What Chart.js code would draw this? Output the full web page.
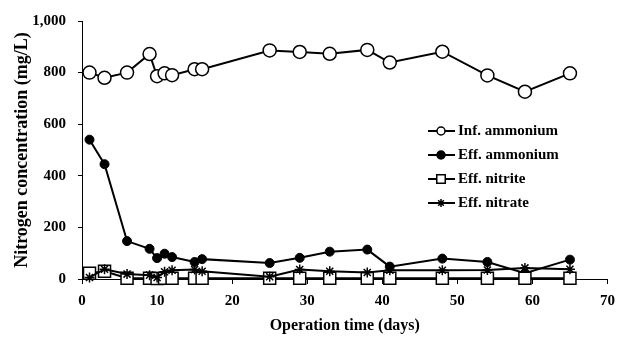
<!DOCTYPE html>
<html>
<head>
<meta charset="utf-8">
<script src="https://cdn.jsdelivr.net/npm/chart.js@4"></script>
<style>
  html, body { margin: 0; padding: 0; background: #fff; }
  #wrap { width: 623px; height: 339px; }
</style>
</head>
<body>
<div id="wrap"><canvas id="myChart"></canvas></div>
<script>
const days = [1, 3, 6, 9, 10, 11, 12, 15, 16, 25, 29, 33, 38, 41, 48, 54, 59, 65];
const infAmmonium = [800, 780, 800, 872, 786, 797, 790, 813, 813, 886, 880, 873, 888, 839, 881, 789, 726, 797];
const effAmmonium = [540, 445, 147, 117, 81, 98, 85, 66, 77, 62, 82, 106, 114, 48, 79, 66, 22, 75];
const effNitrite = [22, 30, 3, 3, 2, 3, 3, 3, 3, 3, 3, 3, 3, 3, 3, 3, 3, 3];
const effNitrate = [6, 38, 19, 15, 6, 28, 34, 37, 30, 9, 37, 30, 25, 34, 34, 35, 43, 38];

const serif = "'Liberation Serif', 'Times New Roman', serif";

function points(values) {
  return days.map((d, i) => ({ x: d, y: values[i] }));
}

// legend drawn as line + marker, inside the plot
const lineLegend = {
  id: "lineLegend",
  afterDatasetsDraw(chart) {
    const ctx = chart.ctx;
    const items = [
      { text: "Inf. ammonium", style: "circle", r: 4, fill: "#fff" },
      { text: "Eff. ammonium", style: "circle", r: 4, fill: "#000" },
      { text: "Eff. nitrite", style: "rect", r: 6, fill: "#fff" },
      { text: "Eff. nitrate", style: "star", r: 4, fill: "#000" },
    ];
    const rows = [131, 155, 179, 203];
    ctx.save();
    items.forEach((it, i) => {
      const y = rows[i];
      ctx.strokeStyle = "#000";
      ctx.lineWidth = 2;
      ctx.beginPath();
      ctx.moveTo(428, y);
      ctx.lineTo(455, y);
      ctx.stroke();
      ctx.fillStyle = it.fill;
      ctx.lineWidth = 1.5;
      Chart.helpers.drawPoint(ctx, { pointStyle: it.style, radius: it.r, rotation: 0, borderWidth: 1.5 }, 441, y);
      ctx.fillStyle = "#000";
      ctx.font = "bold 15px " + serif;
      ctx.textBaseline = "middle";
      ctx.textAlign = "left";
      ctx.fillText(it.text, 458, y);
    });
    ctx.restore();
  },
};

let myChart = document.getElementById("myChart").getContext("2d");

let nChart = new Chart(myChart, {
  type: "line",
  data: {
    datasets: [
      {
        label: "Inf. ammonium",
        data: points(infAmmonium),
        borderColor: "#000",
        borderWidth: 2,
        pointStyle: "circle",
        pointRadius: 6.5,
        pointBackgroundColor: "#fff",
        pointBorderColor: "#000",
        pointBorderWidth: 1.5,
        clip: false,
        order: 3,
      },
      {
        label: "Eff. ammonium",
        data: points(effAmmonium),
        borderColor: "#000",
        borderWidth: 2,
        pointStyle: "circle",
        pointRadius: 4.5,
        pointBackgroundColor: "#000",
        pointBorderColor: "#000",
        pointBorderWidth: 1,
        clip: false,
        order: 2,
      },
      {
        label: "Eff. nitrite",
        data: points(effNitrite),
        borderColor: "#000",
        borderWidth: 2,
        pointStyle: "rect",
        pointRadius: 8.5,
        pointBackgroundColor: "#fff",
        pointBorderColor: "#000",
        pointBorderWidth: 1.5,
        clip: false,
        order: 1,
      },
      {
        label: "Eff. nitrate",
        data: points(effNitrate),
        borderColor: "#000",
        borderWidth: 2,
        pointStyle: "star",
        pointRadius: 5,
        pointBackgroundColor: "#000",
        pointBorderColor: "#000",
        pointBorderWidth: 1.5,
        clip: false,
        order: 0,
      },
    ],
  },
  options: {
    responsive: true,
    maintainAspectRatio: false,
    animation: false,
    layout: { padding: { top: 16, right: 15, bottom: 0, left: 0 } },
    plugins: {
      legend: { display: false },
      tooltip: { enabled: false },
    },
    scales: {
      x: {
        type: "linear",
        min: 0,
        max: 70,
        afterFit: (s) => { s.height = 60; },
        ticks: {
          stepSize: 10,
          color: "#000",
          padding: 8,
          font: { family: serif, size: 15, weight: "bold" },
        },
        grid: { drawOnChartArea: false, drawTicks: true, tickLength: 5, color: "#000" },
        border: { color: "#000", width: 1 },
        title: {
          display: true,
          text: "Operation time (days)",
          color: "#000",
          padding: { top: 0, bottom: 4 },
          font: { family: serif, size: 16, weight: "bold" },
        },
      },
      y: {
        min: 0,
        max: 1000,
        afterFit: (s) => { s.width = 82; },
        ticks: {
          stepSize: 200,
          color: "#000",
          padding: 12,
          font: { family: serif, size: 15, weight: "bold" },
        },
        grid: { drawOnChartArea: false, drawTicks: true, tickLength: 4, color: "#000" },
        border: { color: "#000", width: 1 },
        title: {
          display: true,
          text: "Nitrogen concentration (mg/L)",
          color: "#000",
          padding: { top: 12, bottom: 0 },
          font: { family: serif, size: 18, weight: "bold" },
        },
      },
    },
  },
  plugins: [lineLegend],
});
</script>
</body>
</html>
